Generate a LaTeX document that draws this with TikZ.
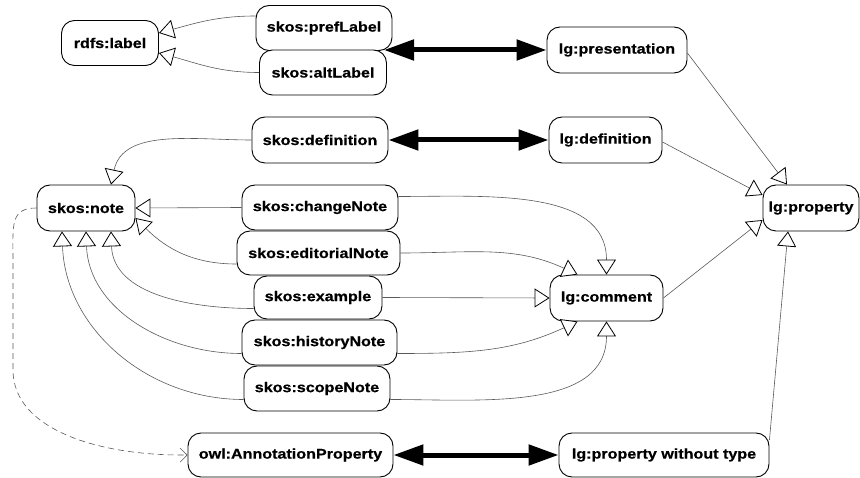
\documentclass[tikz,border=0pt]{standalone}
\usepackage{fontspec}
\setmainfont{Liberation Sans}[FakeStretch=1.15, BoldFeatures={FakeBold=0.6}]
\usetikzlibrary{arrows.meta}
\begin{document}
\begin{tikzpicture}[x=1pt,y=1pt,
  box/.style={draw=black, line width=0.9pt, rounded corners=13pt, minimum height=45pt,
    inner sep=0pt, fill=white, font=\bfseries\fontsize{14}{16}\selectfont},
  isa/.style={draw=black!65, line width=0.6pt,
    -{Triangle[length=15pt,width=19pt,fill=white,color=black,line width=0.8pt]}},
  equiv/.style={line width=5pt,
    {Triangle[length=30pt,width=20pt]}-{Triangle[length=30pt,width=20pt]}},
  typ/.style={draw=black!65, line width=0.6pt, dash pattern=on 6pt off 4pt,
    -{Straight Barb[length=7pt,width=14pt]}}
  ]
\useasboundingbox (0,0) rectangle (860,-478);

\node[box, minimum width=97pt] (rdfs) at (110,-43) {rdfs:label};
\node[box, minimum width=136pt] (pref) at (324,-28) {skos:prefLabel};
\node[box, minimum width=127pt] (alt) at (323,-72.5) {skos:altLabel};
\node[box, minimum width=140pt, minimum height=46pt] (pres) at (617,-50) {lg:presentation};
\node[box, minimum width=136pt, minimum height=46pt] (sdef) at (320,-140) {skos:definition};
\node[box, minimum width=113pt, minimum height=46pt] (lgdef) at (605.5,-140) {lg:definition};
\node[box, minimum width=98pt, minimum height=46pt] (note) at (86,-208) {skos:note};
\node[box, minimum width=156pt] (change) at (320,-207.5) {skos:changeNote};
\node[box, minimum width=163pt, minimum height=44pt] (edit) at (318.5,-253) {skos:editorialNote};
\node[box, minimum width=128pt, minimum height=43pt] (example) at (318,-297.5) {skos:example};
\node[box, minimum width=155pt] (history) at (319.5,-342.5) {skos:historyNote};
\node[box, minimum width=146pt] (scope) at (317,-388.5) {skos:scopeNote};
\node[box, minimum width=205pt, minimum height=44pt] (owl) at (290.5,-455) {owl:AnnotationProperty};
\node[box, minimum width=210pt, minimum height=44pt] (lgpwt) at (664,-455) {lg:property without type};
\node[box, minimum width=113pt, minimum height=46pt] (comment) at (606.5,-298) {lg:comment};
\node[box, minimum width=96pt, minimum height=46pt] (lgprop) at (811,-208) {lg:property};

\coordinate (pa) at (384,-50);

% equivalences
\draw[equiv] (pa) -- (pres.west);
\draw[equiv] (sdef.east) -- (lgdef.west);
\draw[equiv] (owl.east) -- (lgpwt.west);

% rdfs:label
\draw[isa] ([yshift=12pt]pref.west) to[out=180,in=15] ([yshift=10pt]rdfs.east);
\draw[isa] (alt.west) to[out=180,in=-15] ([yshift=-10pt]rdfs.east);

% skos:note
\draw[isa] (sdef.west) to[out=180,in=78] ([xshift=25pt]note.north);
\draw[isa] (change.west) -- (note.east);
\draw[isa] ([yshift=-11pt]edit.west) to[out=180,in=-45] ([yshift=-10pt]note.east);
\draw[isa] ([yshift=-11pt]example.west) to[out=180,in=-88] ([xshift=25pt]note.south);
\draw[isa] ([yshift=-11pt]history.west) to[out=180,in=-88] (note.south);
\draw[isa] ([yshift=-11pt]scope.west) to[out=180,in=-88] ([xshift=-24pt]note.south);

% lg:comment
\draw[isa] ([yshift=11pt]change.east) to[out=0,in=90] (comment.north);
\draw[isa] (edit.east) to[out=0,in=155] ([xshift=-29pt]comment.north);
\draw[isa] (example.east) -- (comment.west);
\draw[isa] ([yshift=-11pt]history.east) to[out=0,in=-155] ([xshift=-29pt]comment.south);
\draw[isa] ([yshift=-11pt]scope.east) to[out=0,in=-90] (comment.south);

% lg:property
\draw[isa] ([yshift=-3pt]pres.east) -- ([xshift=-24pt]lgprop.north);
\draw[isa] ([yshift=-2pt]lgdef.east) -- ([yshift=13pt]lgprop.west);
\draw[isa] (comment.east) -- ([yshift=-12pt]lgprop.west);
\draw[isa] ([yshift=15pt]lgpwt.east) -- ([xshift=-23pt]lgprop.south);

% dashed type
\draw[typ] (note.west) .. controls (10,-208) and (13,-225) .. (13,-260)
  -- (13,-370) .. controls (13,-430) and (100,-456) .. (owl.west);
\end{tikzpicture}
\end{document}
